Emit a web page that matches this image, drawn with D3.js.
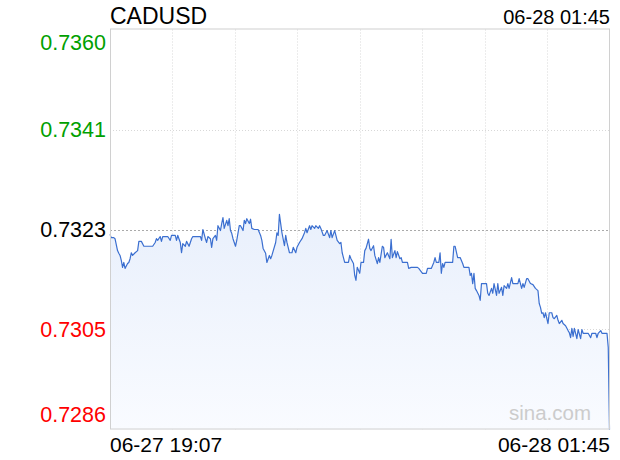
<!DOCTYPE html>
<html><head><meta charset="utf-8">
<script src="https://cdn.jsdelivr.net/npm/d3@7"></script>
<style>body{margin:0;background:#fff}svg{display:block}text{font-family:"Liberation Sans",Arial,sans-serif}</style>
</head><body><svg id="c" width="620" height="460"></svg>
<script>
const title = "CADUSD";
const lastTime = "06-28 01:45";
const xLabels = ["06-27 19:07", "06-28 01:45"];
const yTickLabels = ["0.7360", "0.7341", "0.7323", "0.7305", "0.7286"];
const prevClose = 0.7323;
const yDomain = [0.7286, 0.7360];
const totalMinutes = 398;
// minutes after 06-27 19:07
const minutes = [0,1,3,4,6,7,8,9,10,11,12,14,15,16,17,18,20,22,23,25,27,34,36,37,38,40,41,42,46,48,49,52,53,54,56,57,58,60,61,63,65,66,72,73,74,76,77,78,80,81,82,84,85,86,88,89,90,91,93,94,95,96,97,98,100,101,103,104,106,107,108,109,111,112,113,115,118,120,121,122,124,125,127,128,129,132,133,134,135,136,137,139,140,141,143,145,146,148,149,151,153,155,156,157,159,160,161,163,164,166,167,168,170,171,173,175,176,177,179,180,181,183,184,185,186,187,190,191,192,194,195,196,197,199,200,202,203,204,206,207,208,210,211,213,214,215,217,218,219,221,223,224,225,227,228,229,231,232,233,237,238,240,245,246,249,252,253,256,258,259,260,262,263,264,265,266,267,273,274,275,277,279,281,282,286,287,288,289,290,291,292,294,295,296,300,301,302,304,305,306,308,309,310,312,313,314,316,317,318,320,321,325,326,328,329,330,332,333,335,337,339,341,342,343,344,345,346,347,349,350,352,353,354,356,357,358,360,361,363,365,366,367,368,369,370,371,372,373,375,376,377,381,383,384,387,388,389,391,392,396,397,398];
const prices = [0.73221,0.73215,0.73215,0.73213,0.73191,0.73186,0.73182,0.73173,0.73160,0.73169,0.73158,0.73167,0.73169,0.73176,0.73187,0.73182,0.73187,0.73191,0.73208,0.73208,0.73199,0.73199,0.73206,0.73213,0.73210,0.73217,0.73208,0.73217,0.73217,0.73210,0.73219,0.73219,0.73210,0.73219,0.73206,0.73187,0.73204,0.73199,0.73208,0.73199,0.73213,0.73217,0.73217,0.73210,0.73230,0.73213,0.73206,0.73217,0.73213,0.73197,0.73213,0.73219,0.73210,0.73237,0.73228,0.73241,0.73252,0.73232,0.73247,0.73237,0.73250,0.73228,0.73223,0.73213,0.73199,0.73210,0.73237,0.73237,0.73228,0.73247,0.73241,0.73250,0.73241,0.73249,0.73232,0.73230,0.73230,0.73219,0.73210,0.73195,0.73186,0.73169,0.73182,0.73176,0.73182,0.73206,0.73224,0.73219,0.73258,0.73241,0.73224,0.73200,0.73219,0.73206,0.73187,0.73187,0.73197,0.73187,0.73197,0.73206,0.73213,0.73224,0.73232,0.73224,0.73237,0.73230,0.73237,0.73232,0.73237,0.73232,0.73237,0.73232,0.73219,0.73219,0.73228,0.73215,0.73228,0.73215,0.73228,0.73219,0.73210,0.73204,0.73206,0.73187,0.73178,0.73169,0.73169,0.73182,0.73176,0.73167,0.73145,0.73136,0.73160,0.73149,0.73169,0.73169,0.73191,0.73195,0.73212,0.73195,0.73191,0.73200,0.73182,0.73167,0.73178,0.73169,0.73199,0.73197,0.73178,0.73187,0.73176,0.73212,0.73178,0.73191,0.73178,0.73189,0.73176,0.73178,0.73169,0.73169,0.73158,0.73160,0.73160,0.73158,0.73149,0.73149,0.73158,0.73158,0.73169,0.73178,0.73169,0.73169,0.73187,0.73149,0.73167,0.73160,0.73169,0.73169,0.73199,0.73199,0.73178,0.73178,0.73167,0.73160,0.73160,0.73145,0.73149,0.73130,0.73149,0.73121,0.73117,0.73108,0.73099,0.73130,0.73130,0.73112,0.73108,0.73121,0.73112,0.73130,0.73108,0.73130,0.73112,0.73123,0.73108,0.73126,0.73121,0.73130,0.73121,0.73141,0.73130,0.73130,0.73139,0.73121,0.73130,0.73123,0.73139,0.73139,0.73130,0.73128,0.73121,0.73117,0.73093,0.73086,0.73075,0.73076,0.73067,0.73076,0.73056,0.73076,0.73076,0.73067,0.73065,0.73071,0.73062,0.73056,0.73062,0.73056,0.73052,0.73043,0.73039,0.73030,0.73047,0.73032,0.73047,0.73038,0.73028,0.73045,0.73028,0.73045,0.73038,0.73038,0.73030,0.73038,0.73038,0.73030,0.73038,0.73043,0.73038,0.73038,0.73012,0.72860];

const data = minutes.map((m, i) => ({m, v: prices[i]}));
const svg = d3.select("#c");
const L = 110, R = 609.5, T = 29.5, B = 429.5;
const x = d3.scaleLinear().domain([0, totalMinutes]).range([L, R]);
const y = d3.scaleLinear().domain(yDomain).range([B, T]);

const defs = svg.append("defs");
const g = defs.append("linearGradient").attr("id","fill")
  .attr("gradientUnits","userSpaceOnUse").attr("x1",0).attr("x2",0).attr("y1",T).attr("y2",B);
g.append("stop").attr("offset","0%").attr("stop-color","#dbe6f9");
g.append("stop").attr("offset","100%").attr("stop-color","#f9fbff");

// vertical grid
const xDiv = d3.range(1, 8).map(i => i * totalMinutes / 8);
svg.append("g").selectAll("line").data(xDiv).join("line")
  .attr("x1", d => Math.round(x(d)) + 0.5).attr("x2", d => Math.round(x(d)) + 0.5)
  .attr("y1", T).attr("y2", B)
  .attr("stroke", "#d8d8d8").attr("stroke-dasharray", "1,2");

// horizontal grid
const yVals = yTickLabels.map((s, i) => yDomain[1] - i * (yDomain[1] - yDomain[0]) / (yTickLabels.length - 1));
svg.append("g").selectAll("line").data(yVals.slice(1, -1)).join("line")
  .attr("x1", L).attr("x2", R)
  .attr("y1", d => Math.round(y(d)) + 0.5).attr("y2", d => Math.round(y(d)) + 0.5)
  .attr("stroke", (d, i) => i === 1 ? "#aaaaaa" : "#d8d8d8")
  .attr("stroke-dasharray", (d, i) => i === 1 ? "2,2" : "1,2");

// area + line
const area = d3.area().x(d => x(d.m)).y0(B).y1(d => y(d.v));
svg.append("path").datum(data).attr("d", area).attr("fill", "url(#fill)");
const line = d3.line().x(d => x(d.m)).y(d => y(d.v));
svg.append("path").datum(data).attr("d", line).attr("fill", "none")
  .attr("stroke", "#3b6fd0").attr("stroke-width", 1.2).attr("stroke-linejoin", "round");

// frame
svg.append("rect").attr("x", L + 0.5).attr("y", T - 0.5).attr("width", R - L - 0.5).attr("height", B - T)
  .attr("fill", "none").attr("stroke", "#d0d0d0");

// y labels
svg.append("g").selectAll("text").data(yVals).join("text")
  .attr("x", 106).attr("y", (d, i) => i === 0 ? y(d) + 13 : i === yVals.length - 1 ? y(d) - 15 : y(d))
  .attr("dy", "0.36em").attr("text-anchor", "end").attr("font-size", 21.5)
  .attr("fill", (d, i) => { const v = +yTickLabels[i]; return Math.abs(v - prevClose) < 1e-9 ? "#000" : v > prevClose ? "#00a000" : "#f00"; })
  .text((d, i) => yTickLabels[i]);

// title & time
svg.append("text").attr("x", 110).attr("y", 24).attr("font-size", 23).attr("fill", "#000").text(title);
svg.append("text").attr("x", 610).attr("y", 24).attr("text-anchor", "end").attr("font-size", 20).attr("fill", "#000").text(lastTime);
svg.append("text").attr("x", 110).attr("y", 452).attr("font-size", 21).attr("fill", "#000").text(xLabels[0]);
svg.append("text").attr("x", 610).attr("y", 452).attr("text-anchor", "end").attr("font-size", 21).attr("fill", "#000").text(xLabels[1]);
svg.append("text").attr("x", 591).attr("y", 420).attr("text-anchor", "end").attr("font-size", 20.5).attr("fill", "#cccccc").text("sina.com");
</script></body></html>
